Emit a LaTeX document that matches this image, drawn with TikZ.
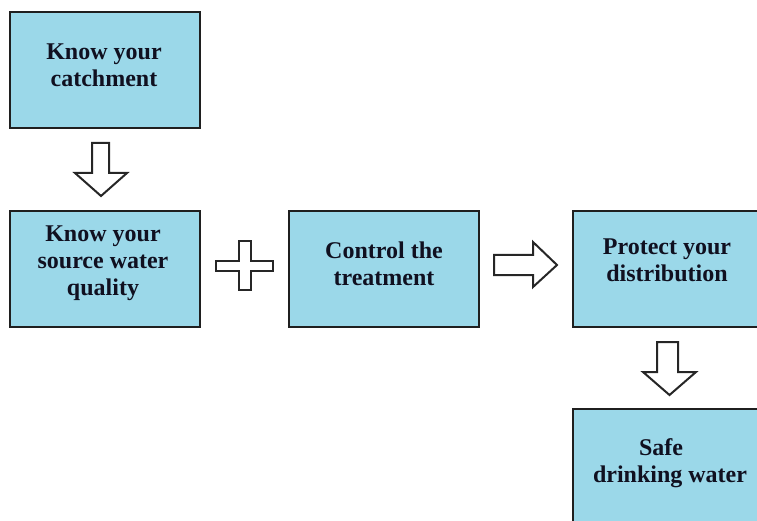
\documentclass[tikz,border=0pt]{standalone}
\usepackage{fontspec}
\setmainfont{Liberation Serif}
\begin{document}
\begin{tikzpicture}[x=1pt,y=-1pt,
  stage/.style={draw=black!88,line width=2.2pt,fill=boxblue,inner sep=0pt},
  label/.style={font=\bfseries\fontsize{24}{27}\selectfont,text=inkdark,align=center,inner sep=0pt},
  blockarrow/.style={draw=black!85,line width=2pt,fill=white,line join=miter}]
\definecolor{boxblue}{RGB}{155,216,233}
\definecolor{inkdark}{RGB}{16,16,32}
\useasboundingbox (0,0) rectangle (757,521);
\clip (0,0) rectangle (757,521);

% stage boxes
\path[stage] (10,12) rectangle (200,128);
\path[stage] (10,211) rectangle (200,327);
\path[stage] (289,211) rectangle (479,327);
\path[stage] (573,211) rectangle (768,327);
\path[stage] (573,409) rectangle (768,535);

\node[stage,draw=none,fill=none,minimum width=190pt,minimum height=116pt] (catch) at (105,70) {};
\node[stage,draw=none,fill=none,minimum width=190pt,minimum height=116pt] (source) at (105,269) {};
\node[stage,draw=none,fill=none,minimum width=190pt,minimum height=116pt] (treat) at (384,269) {};
\node[stage,draw=none,fill=none,minimum width=190pt,minimum height=116pt] (dist) at (668,269) {};
\node[stage,draw=none,fill=none,minimum width=190pt,minimum height=116pt] (safe) at (668,467) {};

% captions
\node[label] (tcatch) at (104,65) {Know your\\catchment};
\node[label] (tsource) at (103,263) {Know your\\source water\\quality};
\node[label] (ttreat) at (384,264) {Control the\\treatment};
\node[label] (tdist) at (667,260) {Protect your\\distribution};
\node[label] (tsafe) at (670,463) {Safe\hspace*{18pt}\\drinking water};

% down arrow: catchment -> source
\path[blockarrow] (92,143) -- (109,143) -- (109,173) -- (127,173) -- (101,196)
  -- (75,173) -- (92,173) -- cycle;

% plus sign between source and treatment
\path[blockarrow] (239,241) -- (251,241) -- (251,261) -- (273,261) -- (273,271)
  -- (251,271) -- (251,290) -- (239,290) -- (239,271) -- (216,271) -- (216,261)
  -- (239,261) -- cycle;

% right arrow: treatment -> distribution
\path[blockarrow] (494,255) -- (533,255) -- (533,242) -- (557,265) -- (533,287)
  -- (533,275) -- (494,275) -- cycle;

% down arrow: distribution -> safe water
\path[blockarrow] (657,342) -- (678,342) -- (678,372) -- (696,372) -- (669.5,395)
  -- (643,372) -- (657,372) -- cycle;
\end{tikzpicture}
\end{document}
